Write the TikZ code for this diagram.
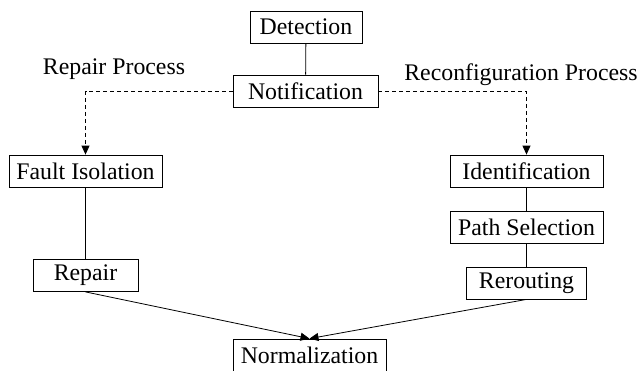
\documentclass[tikz,border=0pt]{standalone}
\usepackage{fontspec}
\setmainfont{Liberation Serif}
\usetikzlibrary{arrows.meta}

\begin{document}
\begin{tikzpicture}[x=1pt,y=-1pt,
    stage/.style={draw,line width=0.8pt,minimum height=32pt,inner sep=0pt},
    link/.style={line width=0.8pt},
    fork/.style={line width=0.8pt,dash pattern=on 4pt off 3pt,-{Triangle[length=9pt,width=8pt]}},
    merge/.style={line width=0.8pt,-{Triangle[length=9pt,width=8pt]}}]
  \useasboundingbox (0,0) rectangle (640,370);
  \fontsize{23.8}{28}\selectfont
  \node[stage,minimum width=112pt] (det) at (306,27) {Detection};
  \node[stage,minimum width=145pt] (notif) at (305.5,91) {Notification};
  \node[anchor=base,inner sep=0pt] (rp) at (114,74) {Repair Process};
  \node[anchor=base,inner sep=0pt] (rcp) at (521,80) {Reconfiguration Process};
  \node[stage,minimum width=153pt] (fault) at (85.5,171) {Fault Isolation};
  \node[stage,minimum width=105pt] (rep) at (85.5,275.5) {Repair};
  \node[stage,minimum width=153pt] (ident) at (526.5,171) {Identification};
  \node[stage,minimum width=153pt] (path) at (526.5,227) {Path Selection};
  \node[stage,minimum width=120pt] (rer) at (526.5,283) {Rerouting};
  \node[stage,minimum width=153pt] (norm) at (309.5,355) {Normalization};
  \draw[link] (det) -- (notif);
  \draw[fork] (notif.west) -| (fault.north);
  \draw[fork] (notif.east) -| (ident.north);
  \draw[link] (fault) -- (rep);
  \draw[link] (ident) -- (path);
  \draw[link] (path) -- (rer);
  \draw[merge] (rep.south) -- (norm.north);
  \draw[merge] (rer.south) -- (norm.north);
\end{tikzpicture}
\end{document}
